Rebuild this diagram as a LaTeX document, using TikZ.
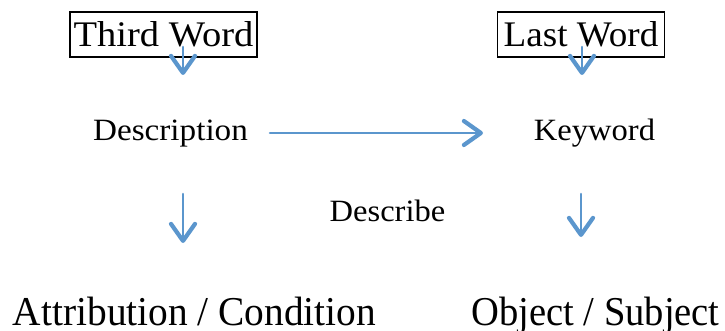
\documentclass[tikz,border=0pt]{standalone}
\usepackage{fontspec}
\setmainfont{Liberation Serif}
\usetikzlibrary{arrows.meta}
\definecolor{arrblue}{RGB}{91,150,205}
\tikzset{
  arr/.style={draw=arrblue, line width=2.6pt, line cap=round,
    -{Straight Barb[length=17pt,width=24pt,line width=4.2pt,round]}},
  boxed/.style={draw=black, line width=1.8pt, inner sep=0pt, minimum height=45pt},
  word/.style={inner sep=0pt, anchor=base}
}
\newcommand{\topfont}{\fontsize{36}{40}\selectfont}
\newcommand{\midfont}{\fontsize{31}{35}\selectfont}
\newcommand{\botfont}{\fontsize{41}{45}\selectfont}
\begin{document}
\begin{tikzpicture}[x=1pt,y=-1pt]
\useasboundingbox (0,0) rectangle (725,331);
% top boxes
\node[boxed, minimum width=187pt] (third) at (163.5,34.5) {\topfont\scalebox{1.07}[1]{Third Word}};
\node[boxed, minimum width=167pt] (last) at (581,34.5) {\topfont\scalebox{1.03}[1]{Last Word}};
% middle words
\node[word] (desc) at (170.5,141) {\midfont\scalebox{1.07}[1]{Description}};
\node[word] (key) at (594.5,141) {\midfont\scalebox{1.05}[1]{Keyword}};
\node[word] (describe) at (387.5,221.5) {\midfont\scalebox{1.05}[1]{Describe}};
% bottom words
\node[word] (attr) at (194.5,325) {\botfont\scalebox{0.96}[1]{Attribution / Condition}};
\node[word] (obj) at (595.5,325) {\botfont\scalebox{0.94}[1]{Object / Subject}};
% arrow end points
\coordinate (t1) at (183,47);
\coordinate (t1e) at (183,75);
\coordinate (t2) at (582,47);
\coordinate (t2e) at (582,75);
\coordinate (h1) at (270,133);
\coordinate (h1e) at (483,133);
\coordinate (m1) at (183,194);
\coordinate (m1e) at (183,243);
\coordinate (m2) at (581,194);
\coordinate (m2e) at (581,237);
\draw[arr] (t1) -- (t1e);
\draw[arr] (t2) -- (t2e);
\draw[arr] (h1) -- (h1e);
\draw[arr] (m1) -- (m1e);
\draw[arr] (m2) -- (m2e);
\end{tikzpicture}
\end{document}
